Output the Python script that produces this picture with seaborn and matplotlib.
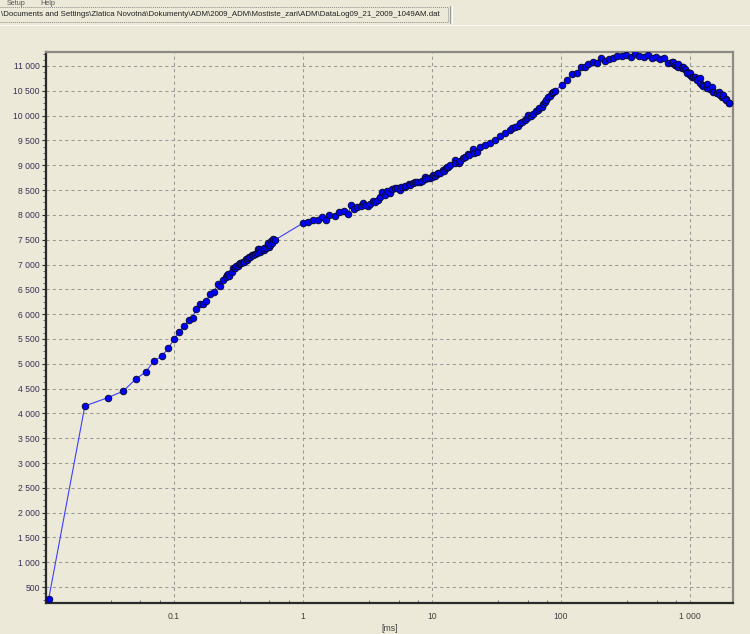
import numpy as np
import pandas as pd
import matplotlib
matplotlib.use("Agg")
import matplotlib.pyplot as plt
import matplotlib.ticker as mticker
from matplotlib.patches import Rectangle
from matplotlib.lines import Line2D
import seaborn as sns

# ---------------- data ----------------
time_ms = [
    0.0107, 0.0204, 0.0306, 0.0405, 0.0507, 0.0604, 0.070, 0.0807, 0.0903, 0.100,
    0.109, 0.120, 0.130, 0.140, 0.148, 0.159, 0.169, 0.178, 0.190, 0.205,
    0.218, 0.229, 0.240, 0.253, 0.258, 0.264, 0.268, 0.280, 0.285, 0.297,
    0.303, 0.312, 0.321, 0.325, 0.331, 0.344, 0.349, 0.362, 0.366, 0.377,
    0.381, 0.388, 0.400, 0.412, 0.425, 0.438, 0.450, 0.458, 0.464, 0.481,
    0.499, 0.501, 0.517, 0.532, 0.538, 0.548, 0.555, 0.570, 0.572, 0.589,
    0.607,
    1.00, 1.10, 1.20, 1.31, 1.41, 1.50, 1.60, 1.77, 1.91, 2.08,
    2.22, 2.36, 2.50, 2.61, 2.80, 2.90, 3.03, 3.20, 3.31, 3.50,
    3.61, 3.80, 3.95, 4.07, 4.32, 4.45, 4.72, 4.87, 5.17, 5.33,
    5.65, 5.72, 6.18, 6.20, 6.67, 6.75, 7.16, 7.38, 7.69, 8.07,
    8.32, 8.83, 8.85, 9.36, 9.64, 9.95, 10.2, 10.5, 11.0, 11.2,
    11.5, 12.2, 12.3, 12.8, 13.0, 13.4, 13.8, 15.1, 15.2, 16.3,
    16.5, 17.5, 18.0, 19.1, 19.2, 20.9, 21.0, 22.4, 23.6, 25.8,
    28.2, 30.8, 33.7, 36.8, 40.3, 42.0, 44.0, 46.0, 48.1, 50.0,
    52.6, 54.0, 55.8, 58.0, 61.0, 64.0, 66.7, 68.0, 70.8, 73.0,
    75.1, 77.0, 79.7, 82.0, 84.7, 87.0, 89.8,
    101, 111, 121, 132, 142, 152, 163, 176, 191, 203,
    219, 237, 254, 273, 296, 319, 347, 375, 405, 440,
    475, 505, 545, 585, 628, 679, 721, 722, 742, 765,
    789, 812, 813, 862, 863, 887, 915, 943, 953, 1000,
    1001, 1030, 1061, 1094, 1127, 1128, 1196, 1197, 1233, 1268,
    1346, 1347, 1348, 1429, 1472, 1473, 1516, 1610, 1611, 1660,
    1709, 1762, 1813, 1814, 1901, 1902, 1985, 2005,
]

strain = [
    260, 4150, 4315, 4450, 4695, 4835, 5055, 5155, 5310, 5495,
    5635, 5760, 5875, 5930, 6110, 6210, 6210, 6270, 6400, 6440,
    6615, 6570, 6690, 6755, 6780, 6810, 6760, 6855, 6925, 6925,
    6970, 6970, 7005, 7025, 7030, 7055, 7060, 7110, 7090, 7125,
    7145, 7150, 7190, 7185, 7210, 7225, 7315, 7305, 7250, 7290,
    7290, 7325, 7335, 7415, 7430, 7360, 7395, 7475, 7440, 7510,
    7495,
    7835, 7865, 7895, 7900, 7965, 7900, 7990, 7980, 8065, 8085,
    8010, 8195, 8120, 8155, 8180, 8230, 8200, 8170, 8220, 8280,
    8265, 8300, 8365, 8465, 8400, 8485, 8435, 8515, 8535, 8535,
    8500, 8570, 8570, 8580, 8615, 8600, 8635, 8670, 8655, 8670,
    8690, 8770, 8715, 8735, 8735, 8770, 8805, 8785, 8825, 8840,
    8850, 8905, 8890, 8940, 8970, 8970, 9005, 9105, 9050, 9040,
    9090, 9140, 9160, 9220, 9205, 9320, 9240, 9270, 9375, 9410,
    9455, 9510, 9590, 9655, 9710, 9760, 9775, 9800, 9845, 9880,
    9910, 9950, 10015, 9990, 10035, 10090, 10115, 10150, 10180, 10230,
    10280, 10320, 10370, 10400, 10450, 10470, 10500,
    10615, 10720, 10840, 10865, 10975, 10975, 11040, 11085, 11055, 11155,
    11105, 11140, 11155, 11210, 11200, 11215, 11190, 11235, 11200, 11190,
    11220, 11155, 11190, 11135, 11155, 11065, 11085, 11055, 11085, 11020,
    11005, 10985, 11035, 10955, 10985, 10985, 10935, 10875, 10855, 10820,
    10855, 10785, 10770, 10785, 10730, 10720, 10650, 10750, 10615, 10595,
    10570, 10565, 10630, 10530, 10515, 10585, 10480, 10450, 10450, 10480,
    10415, 10380, 10380, 10415, 10330, 10315, 10250, 10250,
]

x_ticks = [0.1, 1, 10, 100, 1000]
y_ticks = [500, 1000, 1500, 2000, 2500, 3000, 3500, 4000, 4500, 5000, 5500,
           6000, 6500, 7000, 7500, 8000, 8500, 9000, 9500, 10000, 10500, 11000]
x_label = "[ms]"
file_path = ("\\Documents and Settings\\Zlatica Novotná\\Dokumenty\\ADM\\2009_ADM\\"
             "Mostiste_zari\\ADM\\DataLog09_21_2009_1049AM.dat")
menu_items = ["Setup", "Help"]

# ---------------- style ----------------
BG = "#ECE9D8"
W, H = 750, 634
DPI = 100

sns.set_style("white")
plt.rcParams["font.family"] = ["Liberation Sans", "DejaVu Sans"]

fig = plt.figure(figsize=(W / DPI, H / DPI), dpi=DPI, facecolor=BG)

def fx(px):
    return px / W

def fy(py):
    return 1 - py / H

L, R, T, B = 46, 733, 52, 603
ax = fig.add_axes([fx(L), fy(B), fx(R) - fx(L), fy(T) - fy(B)])
ax.set_facecolor(BG)

df = pd.DataFrame({"t": time_ms, "v": strain})
sns.lineplot(data=df, x="t", y="v", ax=ax, sort=False, estimator=None,
             color="#3d3dff", linewidth=0.8, marker="o", markersize=4.7,
             markerfacecolor="#0000ff", markeredgecolor="#0a0a3a",
             markeredgewidth=0.7, zorder=3)

ax.set_xscale("log")
ax.set_xlim(0.0102, 2150)
ax.set_ylim(180, 11282)

ax.xaxis.set_major_locator(mticker.FixedLocator(x_ticks))
ax.xaxis.set_minor_locator(mticker.LogLocator(base=10, subs=[3.25, 5.5, 7.75], numticks=20))
ax.xaxis.set_minor_formatter(mticker.NullFormatter())

def fmt_num(v, pos=None):
    if v < 1:
        return f"{v:g}"
    return f"{int(round(v)):,}".replace(",", " ")

ax.xaxis.set_major_formatter(mticker.FuncFormatter(fmt_num))
ax.yaxis.set_major_locator(mticker.FixedLocator(y_ticks))
ax.yaxis.set_minor_locator(mticker.MultipleLocator(125))
ax.yaxis.set_major_formatter(mticker.FuncFormatter(fmt_num))

ax.grid(True, which="major", color="#9a9a94", linestyle=(0, (3, 3)), linewidth=0.75)

label_color = "#3a2f55"
ax.tick_params(axis="y", which="major", direction="out", length=3, width=0.8,
               color="#2a2a2a", labelsize=6.2, labelcolor=label_color, pad=1.5, left=True)
ax.tick_params(axis="y", which="minor", direction="out", length=2, width=0.6,
               color="#555555", left=True)
ax.tick_params(axis="x", which="major", direction="in", length=0,
               labelsize=6.2, labelcolor="#404040", pad=6.5, bottom=True)
ax.tick_params(axis="x", which="minor", direction="in", length=2.5, width=0.6,
               color="#555555", bottom=True)

ax.set_xlabel(x_label, fontsize=6.2, color="#404040", labelpad=2)
ax.set_ylabel("")

for side in ["left", "bottom"]:
    ax.spines[side].set_color("#2a2a2a")
    ax.spines[side].set_linewidth(1.6)
for side in ["top", "right"]:
    ax.spines[side].set_color("#8c8c84")
    ax.spines[side].set_linewidth(1.6)

# ---------------- window header ----------------
fig.text(fx(7), fy(0.3), menu_items[0], fontsize=5.2, color="#555555", va="top", ha="left")
fig.text(fx(40), fy(0.3), menu_items[1], fontsize=5.2, color="#555555", va="top", ha="left")

box = Rectangle((fx(-1), fy(22)), fx(448) - fx(-1), fy(7) - fy(22), transform=fig.transFigure,
                facecolor=BG, edgecolor="#8a8a8a", linewidth=0.7, linestyle=(0, (1, 1)))
fig.patches.append(box)
fig.lines.append(Line2D([fx(450), fx(450)], [fy(6), fy(23)], transform=fig.transFigure,
                        color="#9a9a90", linewidth=0.8))
fig.lines.append(Line2D([fx(451.5), fx(451.5)], [fy(6), fy(23)], transform=fig.transFigure,
                        color="#ffffff", linewidth=0.8))
fig.lines.append(Line2D([0, 1], [fy(25), fy(25)], transform=fig.transFigure,
                        color="#f7f6f0", linewidth=1.0))

t = fig.text(fx(1), fy(14.7), file_path, fontsize=6.4, color="#202020", va="center", ha="left")
fig.canvas.draw()
wpx = t.get_window_extent().width
t.set_fontsize(6.4 * 444 / wpx)

fig.savefig("out.png", dpi=DPI, facecolor=BG)
